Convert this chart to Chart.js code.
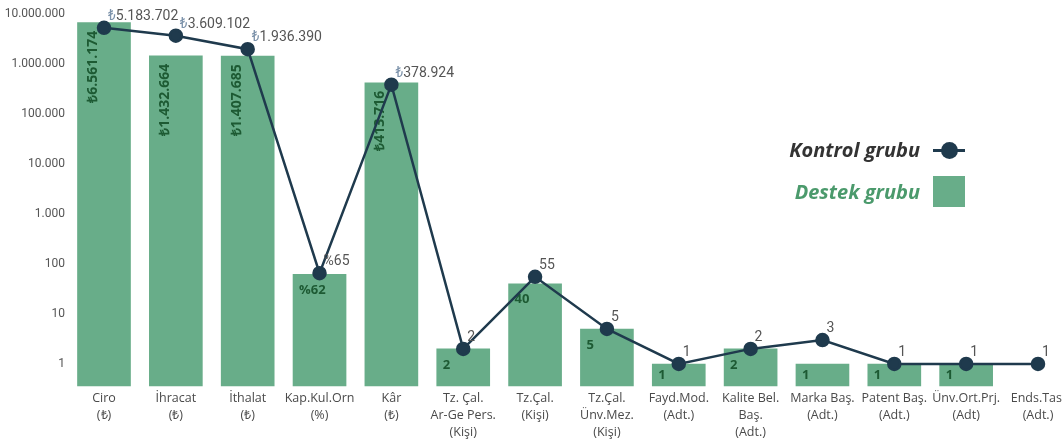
<!DOCTYPE html>
<html>
<head>
<meta charset="utf-8">
<script src="https://cdn.jsdelivr.net/npm/chart.js@4.4.0/dist/chart.umd.min.js"></script>
<style>
  body { margin: 0; background: #fff; }
  #wrap { position: relative; width: 1062px; height: 446px; }
  .lgText { position: absolute; left: 700px; width: 220px; height: 28px; line-height: 28px; text-align: right;
            font-family: 'Open Sans', sans-serif; font-style: italic; font-weight: 700; font-size: 20px; }
  .lgLine { position: absolute; left: 933px; top: 149px; width: 32px; height: 3px; background: #1f3a4d; }
  .lgDot { position: absolute; left: 941px; top: 142px; width: 17px; height: 17px; border-radius: 50%; background: #1f3a4d; }
  .lgBox { position: absolute; left: 933px; top: 176px; width: 32px; height: 31px; background: #68ad89; }
</style>
</head>
<body>
<div id="wrap">
  <canvas id="myChart" width="1062" height="446"></canvas>
  <div class="lgText" style="top:136px;color:#333;">Kontrol grubu</div>
  <div class="lgLine"></div><div class="lgDot"></div>
  <div class="lgText" style="top:178px;color:#4b9a6c;">Destek grubu</div>
  <div class="lgBox"></div>
</div>
<script>
let categories = [
    ['Ciro', '(₺)'], ['İhracat', '(₺)'], ['İthalat', '(₺)'], ['Kap.Kul.Orn', '(%)'], ['Kâr', '(₺)'],
    ['Tz. Çal.', 'Ar-Ge Pers.', '(Kişi)'], ['Tz.Çal.', '(Kişi)'], ['Tz.Çal.', 'Ünv.Mez.', '(Kişi)'],
    ['Fayd.Mod.', '(Adt.)'], ['Kalite Bel.', 'Baş.', '(Adt.)'], ['Marka Baş.', '(Adt.)'],
    ['Patent Baş.', '(Adt.)'], ['Ünv.Ort.Prj.', '(Adt)'], ['Ends.Tas.', '(Adt.)']
]
let units = ['₺', '₺', '₺', '%', '₺', '', '', '', '', '', '', '', '', '']
let destekGrubu = [6561174, 1432664, 1407685, 62, 413716, 2, 40, 5, 1, 2, 1, 1, 1, null]
let kontrolGrubu = [5183702, 3609102, 1936390, 65, 378924, 2, 55, 5, 1, 2, 3, 1, 1, 1]
let yTicks = [1, 10, 100, 1000, 10000, 100000, 1000000, 10000000]

let green = '#68ad89'
let navy = '#1f3a4d'

function fmt(v) {
    return String(v).replace(/\B(?=(\d{3})+(?!\d))/g, '.')
}

let valueLabels = {
    id: 'valueLabels',
    afterDatasetDraw(chart, args) {
        if (args.index !== 1) return;
        let ctx = chart.ctx
        let meta = chart.getDatasetMeta(1)
        ctx.save()
        ctx.fillStyle = '#1d5a33'
        meta.data.forEach((el, i) => {
            let v = destekGrubu[i]
            if (v == null) return;
            let text = units[i] + fmt(v)
            if (v >= 1000) {
                ctx.save()
                ctx.font = 'bold 14px "Open Sans", sans-serif'
                ctx.translate(el.x - 11, el.y + 8)
                ctx.rotate(-Math.PI / 2)
                ctx.textAlign = 'right'
                ctx.textBaseline = 'middle'
                ctx.fillText(text, 0, 0)
                ctx.restore()
            } else {
                ctx.font = 'bold 13px "Open Sans", sans-serif'
                ctx.textAlign = 'left'
                ctx.textBaseline = 'middle'
                let y = Math.min(el.y + 16, (el.y + el.base) / 2)
                ctx.fillText(text, el.x - el.width / 2 + 6, y)
            }
        })
        ctx.restore()
    },
    afterDatasetsDraw(chart) {
        let ctx = chart.ctx
        let meta = chart.getDatasetMeta(0)
        ctx.save()
        ctx.font = '14px Roboto, sans-serif'
        ctx.textAlign = 'left'
        ctx.textBaseline = 'alphabetic'
        meta.data.forEach((el, i) => {
            let x = el.x + 4
            let y = el.y - 8
            if (units[i] === '₺') {
                ctx.fillStyle = '#7d93ab'
                ctx.fillText('₺', x, y)
                x += ctx.measureText('₺').width
            } else if (units[i] === '%') {
                ctx.fillStyle = '#555'
                ctx.fillText('%', x, y)
                x += ctx.measureText('%').width
            }
            ctx.fillStyle = '#555'
            ctx.fillText(fmt(kontrolGrubu[i]), x, y)
        })
        ctx.restore()
    }
}

let config = {
    type: 'bar',
    data: {
        labels: categories,
        datasets: [{
            type: 'line',
            label: 'Kontrol grubu',
            data: kontrolGrubu,
            borderColor: navy,
            backgroundColor: navy,
            borderWidth: 2.5,
            pointRadius: 6,
            pointBackgroundColor: navy,
            tension: 0,
            order: 0,
            clip: false,
        }, {
            type: 'bar',
            label: 'Destek grubu',
            data: destekGrubu,
            backgroundColor: green,
            barThickness: 53,
            order: 1,
            clip: false,
        }],
    },
    options: {
        responsive: false,
        animation: false,
        layout: { padding: { left: 0, right: 24, top: 0, bottom: 0 } },
        plugins: {
            legend: { display: false },
            tooltip: { enabled: false },
        },
        scales: {
            x: {
                offset: false,
                grid: { display: false, drawTicks: false },
                border: { display: false },
                ticks: {
                    autoSkip: false,
                    maxRotation: 0,
                    padding: 4,
                    color: '#4a4a4a',
                    font: { family: 'Open Sans', size: 12.5, lineHeight: 1.35 },
                },
                afterFit: (scale) => {
                    scale.height = 60
                    scale.paddingLeft = 0
                    scale.paddingRight = 0
                },
            },
            y: {
                type: 'logarithmic',
                min: Math.pow(10, -0.44),
                max: Math.pow(10, 7.1),
                grid: { display: false, drawTicks: false },
                border: { display: false },
                afterBuildTicks: (scale) => {
                    scale.ticks = yTicks.map(v => ({ value: v }))
                },
                ticks: {
                    padding: 39,
                    color: '#555',
                    font: { family: 'Roboto', size: 12 },
                    callback: function (value) {
                        return fmt(value)
                    },
                },
                afterFit: (scale) => {
                    scale.width = 104
                    scale.paddingTop = 0
                    scale.paddingBottom = 0
                },
            },
        },
    },
    plugins: [valueLabels],
}

let myChart = new Chart(document.getElementById('myChart').getContext('2d'), config)
</script>
</body>
</html>
